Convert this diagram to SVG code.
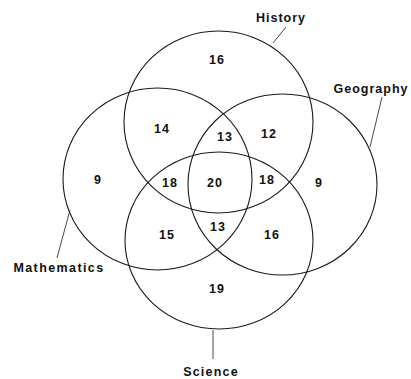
<svg xmlns="http://www.w3.org/2000/svg" width="411" height="379" viewBox="0 0 411 379">
<style>
.c{fill:none;stroke:#1a1a1a;stroke-width:1.1}
.l{stroke:#333;stroke-width:0.9;fill:none}
text{font-family:"Liberation Sans",Arial,sans-serif;font-weight:bold;font-size:12.5px;fill:#111;text-anchor:middle;letter-spacing:1px}
</style>
<rect width="411" height="379" fill="#fff"/>
<g id="history"><ellipse class="c" cx="218.5" cy="122" rx="94.5" ry="91"/><text x="281" y="22">History</text></g>
<g id="mathematics"><ellipse class="c" cx="157.5" cy="179" rx="94.5" ry="91"/><text x="59" y="272" style="letter-spacing:1.4px">Mathematics</text></g>
<g id="geography"><ellipse class="c" cx="282.5" cy="184.5" rx="94.5" ry="90.5"/><text x="371" y="93">Geography</text></g>
<g id="science"><ellipse class="c" cx="219" cy="240.5" rx="94" ry="88.5"/><text x="211" y="376" style="letter-spacing:1.2px">Science</text></g>
<g id="connectors">
<line class="l" x1="286" y1="27" x2="273" y2="43"/>
<line class="l" x1="382" y1="97" x2="370" y2="147"/>
<line class="l" x1="57" y1="258" x2="70" y2="210"/>
<line class="l" x1="213" y1="330" x2="213" y2="359"/>
</g>
<g id="counts">
<text x="217" y="64">16</text>
<text x="162" y="133">14</text>
<text x="225" y="141">13</text>
<text x="269" y="138">12</text>
<text x="98" y="184">9</text>
<text x="170" y="187">18</text>
<text x="215" y="187">20</text>
<text x="267" y="184">18</text>
<text x="319" y="187">9</text>
<text x="167" y="239">15</text>
<text x="218" y="231">13</text>
<text x="272" y="239">16</text>
<text x="217" y="293">19</text>
</g>
</svg>
